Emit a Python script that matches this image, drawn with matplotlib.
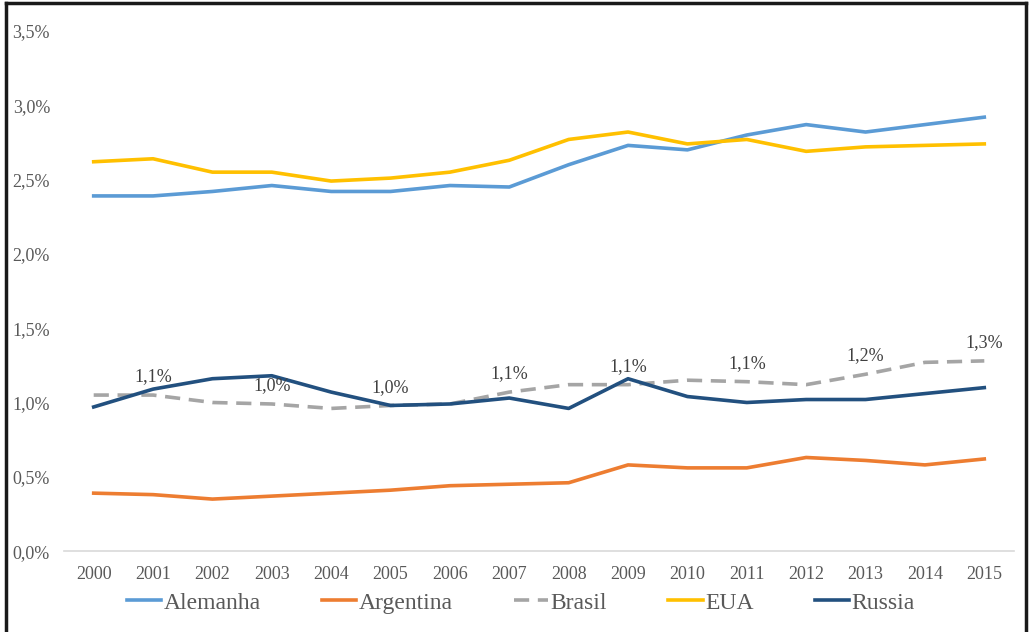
import matplotlib.pyplot as plt
from matplotlib.lines import Line2D
from matplotlib.ticker import FuncFormatter

years = [str(y) for y in range(2000, 2016)]

alemanha = [2.39, 2.39, 2.42, 2.46, 2.42, 2.42, 2.46, 2.45,
            2.60, 2.73, 2.70, 2.80, 2.87, 2.82, 2.87, 2.92]
argentina = [0.39, 0.38, 0.35, 0.37, 0.39, 0.41, 0.44, 0.45,
             0.46, 0.58, 0.56, 0.56, 0.63, 0.61, 0.58, 0.62]
brasil = [1.05, 1.05, 1.00, 0.99, 0.96, 0.98, 0.99, 1.07,
          1.12, 1.12, 1.15, 1.14, 1.12, 1.19, 1.27, 1.28]
eua = [2.62, 2.64, 2.55, 2.55, 2.49, 2.51, 2.55, 2.63,
       2.77, 2.82, 2.74, 2.77, 2.69, 2.72, 2.73, 2.74]
russia = [0.97, 1.09, 1.16, 1.18, 1.07, 0.98, 0.99, 1.03,
          0.96, 1.16, 1.04, 1.00, 1.02, 1.02, 1.06, 1.10]

# anos com rótulo na série do Brasil
label_years = ["2001", "2003", "2005", "2007", "2009", "2011", "2013", "2015"]

plt.rcParams["font.family"] = ["Liberation Serif", "DejaVu Serif"]

fig = plt.figure(figsize=(10.29, 6.32), dpi=100)
ax = fig.add_axes([0.0622, 0.128, 0.9232, 0.823])

x = range(len(years))
lw = 2.6
ax.plot(x, alemanha, color="#5B9BD5", lw=lw, label="Alemanha")
ax.plot(x, argentina, color="#ED7D31", lw=lw, label="Argentina")
ax.plot(x, brasil, color="#A5A5A5", lw=lw, dashes=(4.2, 2.4), label="Brasil")
ax.plot(x, eua, color="#FFC000", lw=lw, label="EUA")
ax.plot(x, russia, color="#22507F", lw=lw, label="Russia")

for i, yr in enumerate(years):
    if yr in label_years:
        txt = f"{brasil[i]:.1f}%".replace(".", ",")
        ax.annotate(txt, (i, brasil[i]), xytext=(0, 7), textcoords="offset points",
                    ha="center", va="bottom", fontsize=13, color="#404040")

ax.set_xlim(-0.5, len(years) - 0.5)
ax.set_ylim(0, 3.5)
ax.set_yticks([0, 0.5, 1.0, 1.5, 2.0, 2.5, 3.0, 3.5])
ax.yaxis.set_major_formatter(FuncFormatter(lambda v, p: f"{v:.1f}%".replace(".", ",")))
ax.set_xticks(list(x))
ax.set_xticklabels(years)
ax.tick_params(axis="both", length=0, labelsize=13, labelcolor="#595959")
ax.tick_params(axis="x", pad=11)
ax.tick_params(axis="y", pad=10)

for side in ["top", "right", "left"]:
    ax.spines[side].set_visible(False)
ax.spines["bottom"].set_color("#D9D9D9")
ax.spines["bottom"].set_linewidth(1.2)

ax.legend(loc="center", bbox_to_anchor=(0.506, 0.046), bbox_transform=fig.transFigure,
          ncol=5, frameon=False, fontsize=17, handlelength=1.45, handletextpad=0.1,
          columnspacing=2.6, labelcolor="#595959")

# moldura escura em volta da figura
W, H = 1029, 632
border = dict(color="#1A1A1A", lw=2.5, transform=fig.transFigure)
fig.add_artist(Line2D([6 / W, 6 / W], [0, 1 - 3 / H], **border))
fig.add_artist(Line2D([6 / W, 1026 / W], [1 - 3 / H, 1 - 3 / H], **border))
fig.add_artist(Line2D([1026 / W, 1026 / W], [0, 1 - 3 / H], **border))

fig.savefig("out.png", dpi=100)
